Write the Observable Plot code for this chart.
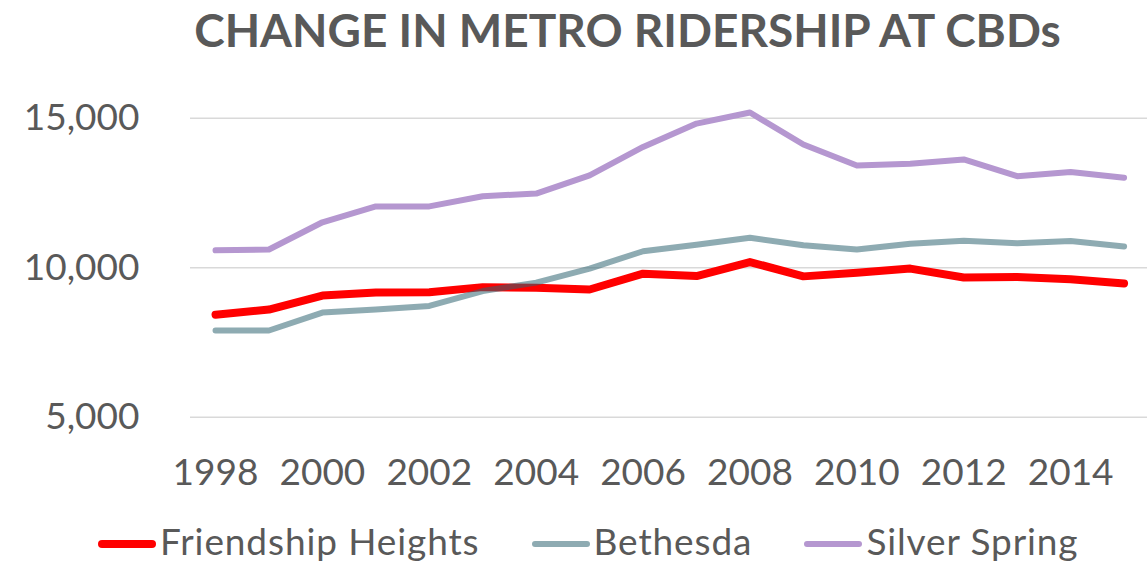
<!DOCTYPE html>
<html>
<head>
<meta charset="utf-8">
<script src="https://cdn.jsdelivr.net/npm/d3@7"></script>
<script src="https://cdn.jsdelivr.net/npm/@observablehq/plot@0.6"></script>
<style>
  html, body { margin: 0; padding: 0; background: #fff; }
  body { width: 1147px; height: 561px; overflow: hidden; font-family: Lato, "Open Sans", sans-serif; color: #595959; position: relative; }
  #title { box-sizing: border-box; width: 1147px; height: 60px; padding-top: 2px; padding-left: 108px; text-align: center;
           font-size: 46px; font-weight: 700; line-height: 1.2; white-space: nowrap; }
  #chart { height: 440px; }
  #legend { position: absolute; left: 98px; top: 519px; display: flex; align-items: center; gap: 52px; white-space: nowrap;
            font-size: 37px; line-height: 1.2; letter-spacing: 0.9px; }
  .item { display: flex; align-items: center; }
  .sw { width: 58px; border-radius: 4px; margin-right: 4px; position: relative; top: 3px; }
</style>
</head>
<body>
<div id="title">CHANGE IN METRO RIDERSHIP AT CBDs</div>
<div id="chart"></div>
<div id="legend"></div>
<script>
const years = [1998, 1999, 2000, 2001, 2002, 2003, 2004, 2005, 2006, 2007, 2008, 2009, 2010, 2011, 2012, 2013, 2014, 2015];
const friendshipHeights = [8430, 8600, 9070, 9170, 9180, 9350, 9330, 9270, 9800, 9720, 10190, 9710, 9830, 9970, 9670, 9690, 9610, 9470];
const bethesda = [7900, 7900, 8500, 8600, 8720, 9220, 9500, 9970, 10550, 10770, 11000, 10750, 10610, 10800, 10900, 10820, 10890, 10710];
const silverSpring = [10580, 10610, 11520, 12050, 12050, 12390, 12480, 13090, 14040, 14820, 15190, 14120, 13420, 13480, 13620, 13060, 13200, 13010];
const seriesNames = ["Friendship Heights", "Bethesda", "Silver Spring"];
const xTicks = [1998, 2000, 2002, 2004, 2006, 2008, 2010, 2012, 2014];
const yTicks = [5000, 10000, 15000];

const seriesStyle = [
  {stroke: "#FF0000", opacity: 1, width: 8},
  {stroke: "#2F6370", opacity: 0.54, width: 6},
  {stroke: "#B597D0", opacity: 1, width: 6}
];
const seriesValues = [friendshipHeights, bethesda, silverSpring];
const tables = seriesValues.map((vals, i) => years.map((y, j) => ({year: y, value: vals[j], series: seriesNames[i]})));

const chart = Plot.plot({
  width: 1147,
  height: 440,
  marginLeft: 190,
  marginRight: 0,
  marginTop: 57.7,
  marginBottom: 83.3,
  style: {fontFamily: "Lato, 'Open Sans', sans-serif", color: "#595959", background: "white", overflow: "visible"},
  x: {type: "linear", domain: [1997.5, 2015.5], range: [188.3, 1150.3]},
  y: {domain: [5000, 15000]},
  marks: [
    Plot.ruleY(yTicks, {stroke: "#D9D9D9", strokeWidth: 1.5}),
    Plot.axisY({ticks: yTicks, tickSize: 0, tickPadding: 51, fontSize: 37, tickFormat: d3.format(","), label: null}),
    Plot.axisX({ticks: xTicks, tickSize: 0, tickPadding: 42, fontSize: 37, tickFormat: d => String(d), label: null}),
    ...tables.map((t, i) => Plot.line(t, {
      x: "year", y: "value",
      stroke: seriesStyle[i].stroke,
      strokeOpacity: seriesStyle[i].opacity,
      strokeWidth: seriesStyle[i].width,
      strokeLinecap: "round", strokeLinejoin: "round"
    }))
  ]
});
document.getElementById("chart").appendChild(chart);

const legend = document.getElementById("legend");
seriesNames.forEach((name, i) => {
  const item = document.createElement("div");
  item.className = "item";
  const sw = document.createElement("span");
  sw.className = "sw";
  sw.style.height = (i === 0 ? 7.5 : 6) + "px";
  sw.style.background = seriesStyle[i].stroke;
  sw.style.opacity = seriesStyle[i].opacity;
  const lab = document.createElement("span");
  lab.textContent = name;
  item.appendChild(sw);
  item.appendChild(lab);
  legend.appendChild(item);
});
</script>
</body>
</html>
